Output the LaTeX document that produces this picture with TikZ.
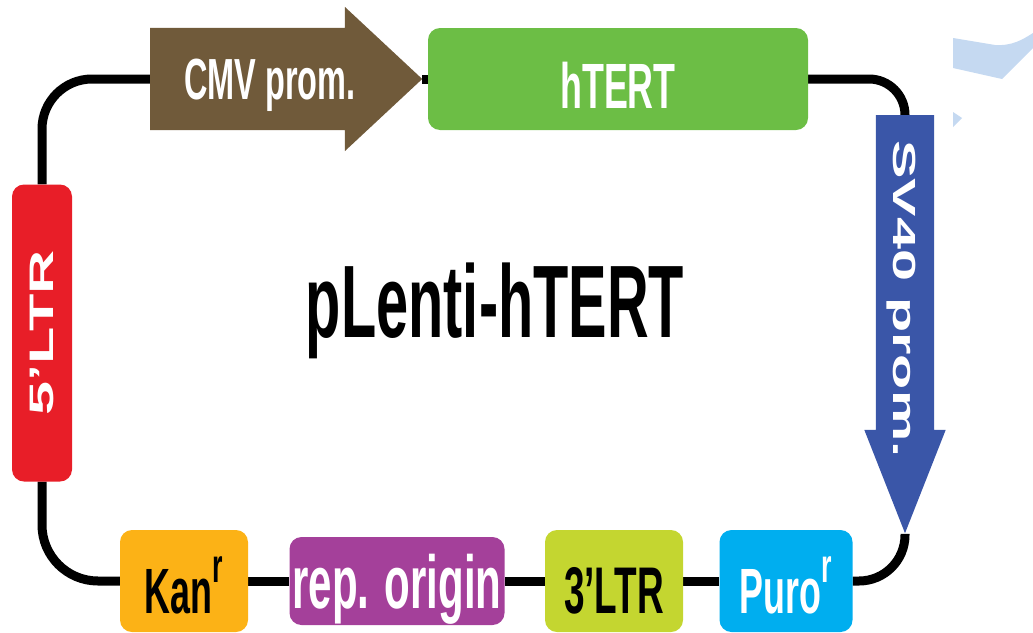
\documentclass[tikz,border=0pt]{standalone}
\usepackage{fontspec}
\setmainfont{Liberation Sans}
\newfontfamily\narrowsf[FakeStretch=0.56]{Liberation Sans}
\newfontfamily\widesf[FakeStretch=1.8]{Liberation Sans}
\usepackage{tikz}
\usetikzlibrary{shapes.arrows, positioning, backgrounds}
\definecolor{cmvbrown}{RGB}{112,90,58}
\definecolor{tertgreen}{RGB}{108,190,69}
\definecolor{sv40blue}{RGB}{58,86,168}
\definecolor{ltrred}{RGB}{232,30,40}
\definecolor{kanorange}{RGB}{252,178,22}
\definecolor{oripurple}{RGB}{164,64,154}
\definecolor{ltrlime}{RGB}{196,214,48}
\definecolor{purocyan}{RGB}{0,174,239}
\definecolor{haze}{RGB}{197,217,241}

% raised resistance mark
\newcommand{\resist}{\raisebox{0.48em}{\scalebox{0.75}{r}}}

\begin{document}
\begin{tikzpicture}[x=1pt, y=-1pt,
  part/.style={rectangle, rounded corners=12pt, inner sep=0pt, minimum height=102pt,
               text depth=0pt},
  prom/.style={single arrow, inner xsep=0pt, text depth=0pt},
  fs/.style={font=\narrowsf\bfseries\fontsize{#1}{#1}\selectfont},
  ws/.style={font=\widesf\bfseries\fontsize{#1}{#1}\selectfont},
  backbone/.style={line width=9pt, black},
]
  \useasboundingbox (0,0) rectangle (1033,632);

  % promoters
  \node[prom, fill=cmvbrown, text height=40pt, inner ysep=31pt,
        minimum height=272pt, single arrow head extend=21pt, single arrow tip angle=86,
        anchor=tail] (cmv) at (150,79) {};
  \node[prom, fill=sv40blue, text height=22pt, inner ysep=18pt, rotate=-90,
        minimum height=418pt, single arrow head extend=11.5pt, single arrow tip angle=43,
        anchor=tail] (sv40) at (905,115) {};
  \node[fs=58, text=white, text height=40pt, text depth=0pt, inner sep=0pt] (cmvlabel) at (270,79) {CMV prom.};
  \node[ws=32, text=white, text height=22pt, text depth=0pt, inner sep=0pt, rotate=-90] (sv40label) at (904,299) {SV40 prom.};

  % elements
  \node[part, fill=tertgreen, text=white, fs=64, text height=58pt, minimum width=380pt] (htert) at (618,79) {hTERT};
  \node[part, fill=ltrred, text=white, ws=34, minimum width=60pt, minimum height=297pt] (ltr5) at (42,333) {\rotatebox{90}{5’LTR}};
  \node[part, fill=kanorange, fs=64, text height=64pt, minimum width=128pt] (kan) at (184,581) {Kan\resist};
  \node[part, fill=oripurple, text=white, fs=75, text height=54pt, minimum width=215pt, minimum height=88pt] (ori) at (397,581) {rep. origin};
  \node[part, fill=ltrlime, fs=66, text height=64pt, minimum width=138pt] (ltr3) at (614,581) {3’LTR};
  \node[part, fill=purocyan, text=white, fs=64, text height=64pt, minimum width=133pt] (puro) at (786,581) {Puro\resist};

  \node[fs=103, anchor=base] (title) at (495,337) {pLenti-hTERT};

  % backbone
  \begin{scope}[on background layer]
    \draw[backbone, rounded corners=50pt] (cmv.tail) -| (ltr5.north);
    \draw[backbone] (cmv.tip) -- (htert.west);
    \draw[backbone, rounded corners=36pt] (htert.east) -| (sv40.tail);
    \draw[backbone, rounded corners=46pt] (sv40.tip) |- (puro.east);
    \foreach \from/\to in {puro/ltr3, ltr3/ori, ori/kan}
      \draw[backbone] (\from) -- (\to);
    \draw[backbone, rounded corners=56pt] (kan.west) -| (ltr5.south);
  \end{scope}

  % faint marks at the right edge
  \fill[haze] (953,38) -- (995,45) .. controls (1012,46) and (1022,40) .. (1033,33)
    -- (1033,48) -- (1002,79) -- (953,68) -- cycle;
  \fill[haze] (953,112) -- (962,118) -- (953,127) -- cycle;
\end{tikzpicture}
\end{document}
